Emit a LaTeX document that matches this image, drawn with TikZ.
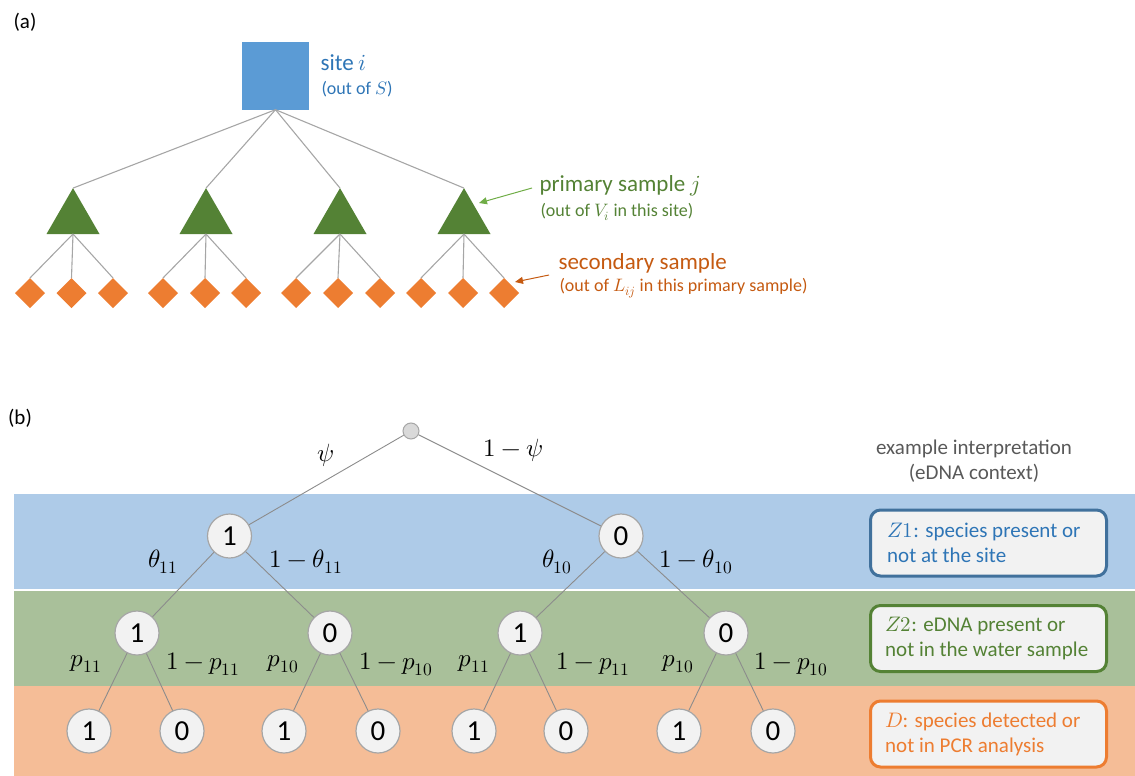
\documentclass[tikz,border=0pt]{standalone}
\usepackage{fontspec}
\usepackage{unicode-math}
\setmainfont{Carlito}
\setmathfont{Latin Modern Math}
\usetikzlibrary{arrows.meta,shapes.geometric}

\definecolor{siteblue}{HTML}{5B9BD5}
\definecolor{primgreen}{HTML}{548235}
\definecolor{secorange}{HTML}{ED7D31}
\definecolor{txtblue}{HTML}{2E75B6}
\definecolor{txtgreen}{HTML}{548235}
\definecolor{txtorange}{HTML}{C55A11}
\definecolor{arrgreen}{HTML}{70AD47}
\definecolor{bandblue}{HTML}{AECBE8}
\definecolor{bandgreen}{HTML}{A9C09A}
\definecolor{bandorange}{HTML}{F5BD97}
\definecolor{boxblue}{HTML}{41719C}
\definecolor{statefill}{HTML}{F2F2F2}
\definecolor{linkgray}{HTML}{A6A6A6}
\definecolor{edgegray}{HTML}{8C8C8C}
\definecolor{notegray}{HTML}{595959}

\begin{document}
\begin{tikzpicture}[x=1pt,y=-1pt,
    big/.style={font=\fontsize{23}{27}\selectfont},
    small/.style={font=\fontsize{18}{21}\selectfont},
    alink/.style={draw=linkgray,line width=1.1pt},
    blink/.style={draw=edgegray,line width=0.9pt},
    sitebox/.style={rectangle,fill=siteblue,minimum size=67pt,inner sep=0pt},
    prim/.style={regular polygon,regular polygon sides=3,fill=primgreen,minimum size=61.2pt,inner sep=0pt,outer sep=0pt},
    sec/.style={diamond,fill=secorange,minimum width=30pt,minimum height=30pt,inner sep=0pt,outer sep=0pt},
    root/.style={circle,fill=gray!30,draw=linkgray,line width=1pt,minimum size=16pt,inner sep=0pt},
    state/.style={circle,fill=statefill,draw=linkgray,line width=1.2pt,minimum size=44pt,inner sep=0pt,font=\fontsize{29}{30}\selectfont},
    prob/.style={font=\fontsize{25}{28}\selectfont},
    interp/.style={rectangle,rounded corners=10pt,fill=statefill,line width=3pt,minimum width=236pt,minimum height=66pt},
    interptxt/.style={anchor=west,align=left,inner sep=0pt,font=\fontsize{21}{25}\selectfont}]
\useasboundingbox (0,0) rectangle (1135,776);

% ---- (a) nested sampling design ----
\node[font=\fontsize{21}{25}\selectfont] (lbla) at (25,22) {(a)};

\node[sitebox] (site) at (275.5,76) {};
\node[big,anchor=west,text=txtblue] (sitetxt) at (317,63) {site $i$};
\node[small,anchor=west,text=txtblue] (sitesub) at (318,89) {(out of $S$)};

\node[prim] (p1) at (73,218.7) {};
\node[prim] (p2) at (206,218.7) {};
\node[prim] (p3) at (340,218.7) {};
\node[prim] (p4) at (464,218.7) {};

\draw[alink] (site.south) -- (p1.north);
\draw[alink] (site.south) -- (p2.north);
\draw[alink] (site.south) -- (p3.north);
\draw[alink] (site.south) -- (p4.north);

\node[sec] (s11) at (30,293) {};
\node[sec] (s12) at (71.5,293) {};
\node[sec] (s13) at (113,293) {};
\node[sec] (s21) at (163,293) {};
\node[sec] (s22) at (205,293) {};
\node[sec] (s23) at (246,293) {};
\node[sec] (s31) at (296,293) {};
\node[sec] (s32) at (338,293) {};
\node[sec] (s33) at (380,293) {};
\node[sec] (s41) at (421,293) {};
\node[sec] (s42) at (463,293) {};
\node[sec] (s43) at (504,293) {};

\draw[alink] (p1.south) -- (s11.north);
\draw[alink] (p1.south) -- (s12.north);
\draw[alink] (p1.south) -- (s13.north);
\draw[alink] (p2.south) -- (s21.north);
\draw[alink] (p2.south) -- (s22.north);
\draw[alink] (p2.south) -- (s23.north);
\draw[alink] (p3.south) -- (s31.north);
\draw[alink] (p3.south) -- (s32.north);
\draw[alink] (p3.south) -- (s33.north);
\draw[alink] (p4.south) -- (s41.north);
\draw[alink] (p4.south) -- (s42.north);
\draw[alink] (p4.south) -- (s43.north);

\node[big,anchor=west,text=txtgreen] (primtxt) at (536,186) {primary sample $j$};
\node[small,anchor=west,text=txtgreen] (primsub) at (537,212) {(out of $V_i$ in this site)};
\coordinate (primfrom) at (532,188);
\coordinate (primtip) at (479,203);
\draw[arrgreen,line width=1pt,-{Triangle[length=8pt,width=7pt]}] (primfrom) -- (primtip);

\node[big,anchor=west,text=txtorange] (sectxt) at (555,263) {secondary sample};
\node[small,anchor=west,text=txtorange] (secsub) at (556,288) {(out of $L_{ij}$ in this primary sample)};
\coordinate (secfrom) at (549,275);
\coordinate (sectip) at (515,282);
\draw[txtorange,line width=1pt,-{Triangle[length=8pt,width=7pt]}] (secfrom) -- (sectip);

% ---- (b) probability tree ----
\node[font=\fontsize{21}{25}\selectfont] (lblb) at (20,418) {(b)};

\fill[bandblue] (14,494) rectangle (1135,588.5);
\fill[bandgreen] (14,590.5) rectangle (1135,685.5);
\fill[bandorange] (14,686) rectangle (1135,776);

\node[root] (r) at (411,431) {};

\node[state] (a1) at (229.5,536) {1};
\node[state] (a0) at (621,536) {0};

\node[state] (b11) at (137,633) {1};
\node[state] (b10) at (330,633) {0};
\node[state] (b01) at (520,633) {1};
\node[state] (b00) at (726,633) {0};

\node[state] (c111) at (89,731) {1};
\node[state] (c110) at (182,731) {0};
\node[state] (c101) at (284,731) {1};
\node[state] (c100) at (378,731) {0};
\node[state] (c011) at (474,731) {1};
\node[state] (c010) at (566,731) {0};
\node[state] (c001) at (679,731) {1};
\node[state] (c000) at (773,731) {0};

\draw[blink] (r) -- (a1);
\draw[blink] (r) -- (a0);
\draw[blink] (a1) -- (b11);
\draw[blink] (a1) -- (b10);
\draw[blink] (a0) -- (b01);
\draw[blink] (a0) -- (b00);
\draw[blink] (b11) -- (c111);
\draw[blink] (b11) -- (c110);
\draw[blink] (b10) -- (c101);
\draw[blink] (b10) -- (c100);
\draw[blink] (b01) -- (c011);
\draw[blink] (b01) -- (c010);
\draw[blink] (b00) -- (c001);
\draw[blink] (b00) -- (c000);

\node[prob] (lpsi) at (326,455) {$\psi$};
\node[prob] (lnpsi) at (513,450) {$1-\psi$};
\node[prob] (lt11) at (163,562) {$\theta_{11}$};
\node[prob] (lnt11) at (306,562) {$1-\theta_{11}$};
\node[prob] (lt10) at (557,562) {$\theta_{10}$};
\node[prob] (lnt10) at (696,562) {$1-\theta_{10}$};
\node[prob] (lp1) at (86,664) {$p_{11}$};
\node[prob] (lnp1) at (203,664) {$1-p_{11}$};
\node[prob] (lp2) at (283,664) {$p_{10}$};
\node[prob] (lnp2) at (396,664) {$1-p_{10}$};
\node[prob] (lp3) at (474,664) {$p_{11}$};
\node[prob] (lnp3) at (593,664) {$1-p_{11}$};
\node[prob] (lp4) at (678,664) {$p_{10}$};
\node[prob] (lnp4) at (791,664) {$1-p_{10}$};

\node[align=center,text=notegray,font=\fontsize{21}{25}\selectfont] (note) at (974,461)
  {example interpretation\\(eDNA context)};

\node[interp,draw=boxblue] (z1) at (988.5,543) {};
\node[interptxt,text=txtblue] (z1txt) at ([xshift=18pt]z1.west)
  {$Z1$: species present or\\not at the site};
\node[interp,draw=primgreen] (z2) at (988.5,638.5) {};
\node[interptxt,text=txtgreen] (z2txt) at ([xshift=16pt]z2.west)
  {$Z2$: eDNA present or\\not in the water sample};
\node[interp,draw=secorange] (dd) at (988.5,734) {};
\node[interptxt,text=secorange] (ddtxt) at ([xshift=16pt]dd.west)
  {$D$: species detected or\\not in PCR analysis};
\end{tikzpicture}
\end{document}
